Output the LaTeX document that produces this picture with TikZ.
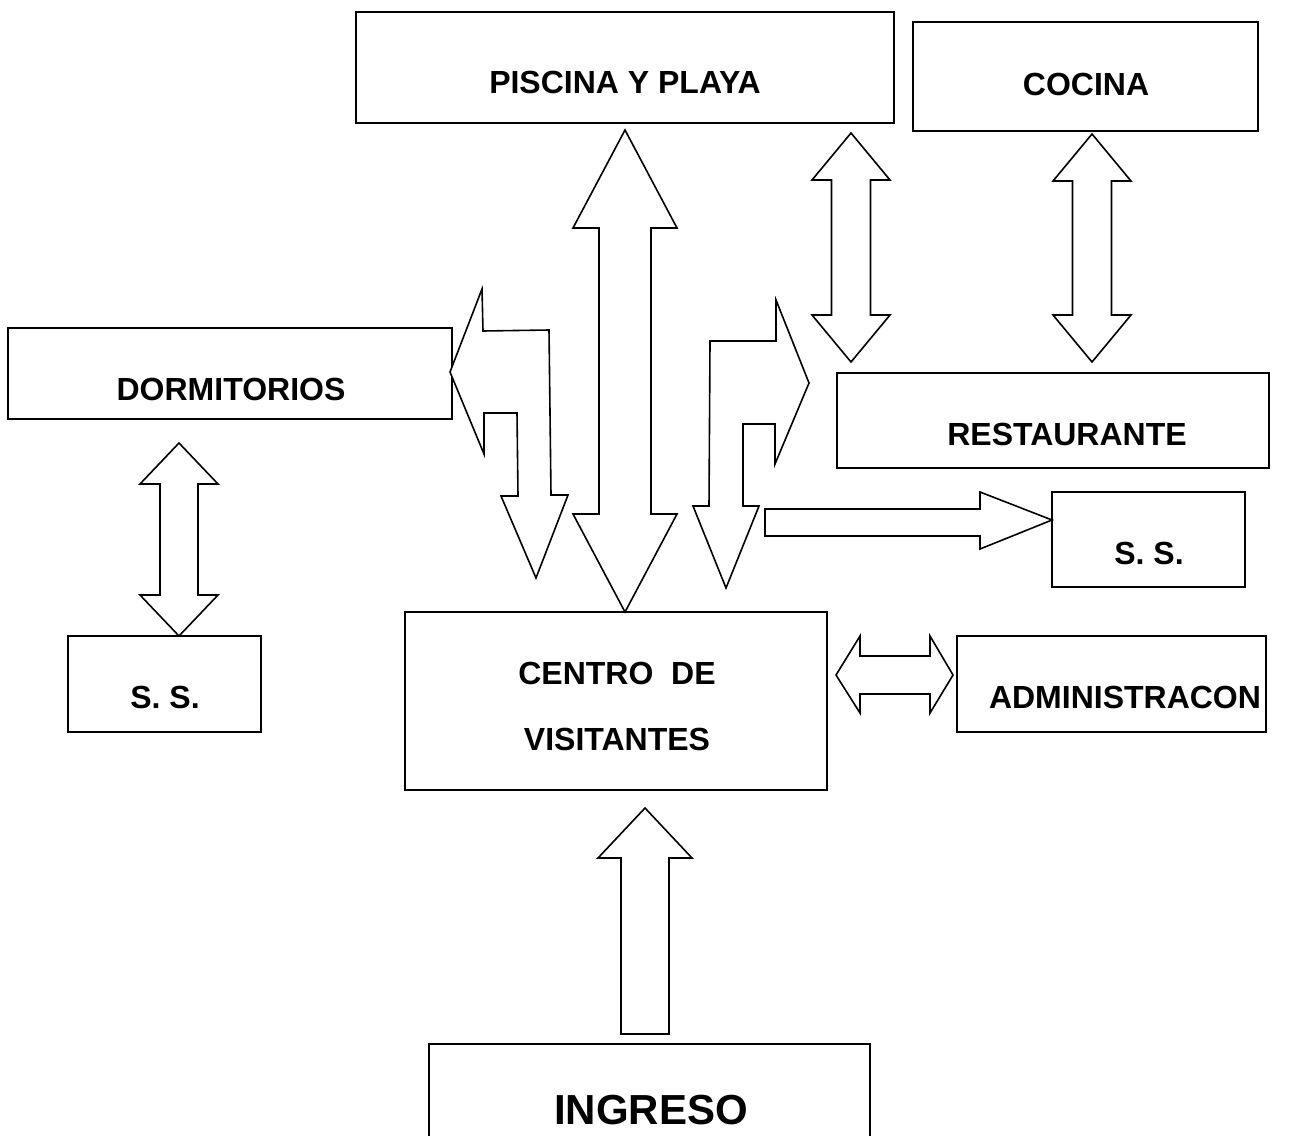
\documentclass[tikz,border=0pt]{standalone}
\usepackage{fontspec}
\setmainfont{Liberation Sans}
\usetikzlibrary{fit}
\tikzset{
	box/.style={draw, line width=0.8pt, inner sep=0pt},
	lbl/.style={font=\bfseries\fontsize{16}{19}\selectfont, inner sep=0pt},
	blockarrow/.style={draw, line width=0.8pt, line join=miter, fill=white}
}
% vertical double block arrow: x, top tip, bottom tip, head length, half head, half shaft
\newcommand{\vdarrow}[6]{%
	\draw[blockarrow] (#1,#2) -- ({#1+#5},{#2+#4}) -- ({#1+#6},{#2+#4}) -- ({#1+#6},{#3-#4})
		-- ({#1+#5},{#3-#4}) -- (#1,#3) -- ({#1-#5},{#3-#4}) -- ({#1-#6},{#3-#4})
		-- ({#1-#6},{#2+#4}) -- ({#1-#5},{#2+#4}) -- cycle;}

\begin{document}
\begin{tikzpicture}[x=0.5pt, y=-0.5pt]
		\useasboundingbox (0,0) rectangle (1304,1135);
		\clip (0,0) rectangle (1304,1135);

		% Boxes
		\node[box, fit={(356,12) (894,123)}] (piscina) {};
		\node[lbl] (piscinaT) at (625,82) {PISCINA Y PLAYA};

		\node[box, fit={(913,22) (1258,131)}] (cocina) {};
		\node[lbl] (cocinaT) at (1086,84) {COCINA};

		\node[box, fit={(8,328) (452,419)}] (dormitorios) {};
		\node[lbl] (dormitoriosT) at (231,389) {DORMITORIOS};

		\node[box, fit={(837,373) (1269,468)}] (restaurante) {};
		\node[lbl] (restauranteT) at (1067,434) {RESTAURANTE};

		\node[box, fit={(1052,492) (1245,587)}] (ssright) {};
		\node[lbl] (ssrightT) at (1149,553) {S. S.};

		\node[box, fit={(68,636) (261,732)}] (ssleft) {};
		\node[lbl] (ssleftT) at (165,697) {S. S.};

		\node[box, fit={(405,612) (827,790)}] (centro) {};
		\node[lbl, align=center, font=\bfseries\fontsize{16}{33}\selectfont] (centroT) at (617,706) {CENTRO\ \ DE\\VISITANTES};

		\node[box, fit={(957,636) (1266,732)}] (admin) {};
		\node[lbl] (adminT) at (1125,697) {ADMINISTRACON};

		\node[box, fit={(429,1044) (870,1170)}] (ingreso) {};
		\node[lbl, font=\bfseries\fontsize{21}{25}\selectfont] (ingresoT) at (651,1110) {INGRESO};

		% Double arrows
		\vdarrow{625}{130}{612}{98}{52}{26}
		\vdarrow{851}{133}{362}{47}{39}{19.5}
		\vdarrow{1092}{134}{362}{47}{39}{19.5}
		\vdarrow{179}{443}{636}{41}{39}{19}

		% Centro <-> Administracion
		\draw[blockarrow] (836,675) -- (860,636) -- (860,656) -- (930,656) -- (930,636) -- (953,675)
			-- (930,713) -- (930,694) -- (860,694) -- (860,713) -- cycle;

		% Dormitorios <-> Centro (bent)
		\draw[blockarrow] (450,372) -- (482,289) -- (483,331) -- (549,330) -- (551,495) -- (568,495)
			-- (536,578) -- (501,496) -- (518,496) -- (517,413) -- (484,413) -- (484,454) -- cycle;

		% Centro <-> Restaurante (bent)
		\draw[blockarrow] (809,383) -- (775,464) -- (775,424) -- (743,424) -- (743,506) -- (759,506)
			-- (726,588) -- (693,506) -- (709,506) -- (710,341) -- (776,341) -- (776,300) -- cycle;

		% to S. S.
		\draw[blockarrow] (765,509) -- (980,509) -- (980,492) -- (1052,520) -- (980,549) -- (980,536)
			-- (765,536) -- cycle;

		% Ingreso -> Centro
		\draw[blockarrow] (645,808) -- (692,858) -- (669,858) -- (669,1034) -- (621,1034) -- (621,858)
			-- (598,858) -- cycle;
	\end{tikzpicture}
\end{document}
